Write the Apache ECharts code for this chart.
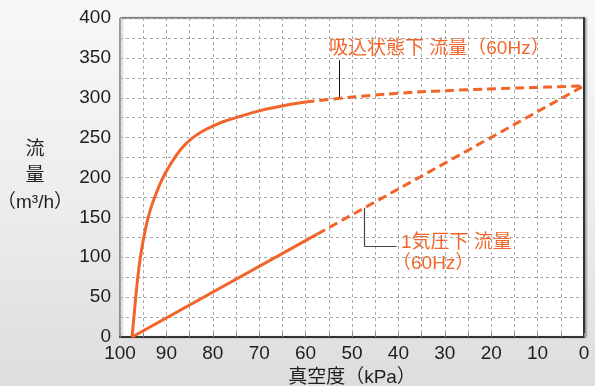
<!DOCTYPE html>
<html>
<head>
<meta charset="utf-8">
<script src="https://cdn.jsdelivr.net/npm/echarts@6/dist/echarts.min.js"></script>
<style>
  html, body { margin: 0; padding: 0; }
  body { width: 595px; height: 386px; background: linear-gradient(180deg, #f8f8f8 0%, #ececec 55%, #dddddd 100%); }
  #chart { width: 595px; height: 386px; }
</style>
</head>
<body>
<div id="chart"></div>
<script>
// Vacuum level (kPa) and flow rate (m³/h) under suction conditions, 60Hz
const suctionSolid = [
  [97.4, 0], [97.0, 25], [96.6, 50], [96.1, 78], [95.5, 104], [94.8, 127],
  [94.0, 148], [93.1, 166], [92.0, 183], [90.9, 198], [89.6, 212], [88.3, 224],
  [86.5, 238], [84.5, 249], [82.5, 257], [80.0, 264.5], [77.5, 270.5],
  [75.0, 275], [72.5, 279.5], [70.0, 283.5], [67.0, 287.5], [63.5, 291.5], [60.0, 294.8]
];
const suctionDashed = [
  [60.0, 294.8], [52.7, 299.3], [46.0, 302.8], [39.7, 305.8], [32.0, 308.3],
  [25.3, 310], [18.0, 311.5], [10.9, 312.8], [5.0, 313.9], [0, 315]
];
// Flow rate at 1 atm, 60Hz
const atmSolid = [[97.4, 0], [57.5, 129]];
const atmDashed = [[57.5, 129], [0, 315]];

// Leader lines for the two series labels (data coordinates)
const suctionLeader = [[52.7, 299.3], [52.7, 347]];
const atmLeader = [[47.3, 162], [47.3, 113.5], [40.4, 113.5]];

const xTicks = [0, 10, 20, 30, 40, 50, 60, 70, 80, 90, 100];
const yTicks = [0, 50, 100, 150, 200, 250, 300, 350, 400];

const ORANGE = '#f2652a';
const INK = '#1e1e1e';
const FONT = '"Liberation Sans", "Noto Sans CJK JP", sans-serif';
const FS = 19;

const chart = echarts.init(document.getElementById('chart'), null, { renderer: 'canvas' });

const gridDash = { color: '#a8a8a8', width: 1, type: [3, 3] };

function leaderSegments(pts) {
  const segs = [];
  for (let i = 0; i < pts.length - 1; i++) {
    segs.push([{ coord: pts[i] }, { coord: pts[i + 1] }]);
  }
  return segs;
}

function txt(text, x, y, fill, align) {
  return {
    type: 'text', x: x, y: y,
    style: { text: text, fill: fill, font: FS + 'px ' + FONT, textAlign: align, textVerticalAlign: 'middle' }
  };
}

chart.setOption({
  animation: false,
  backgroundColor: 'transparent',
  grid: {
    left: 120, right: 11, top: 18, bottom: 49,
    outerBoundsMode: 'none', containLabel: false,
    show: true, backgroundColor: '#ffffff', borderColor: '#3a3a3a', borderWidth: 1,
    shadowColor: 'rgba(0,0,0,0.35)', shadowBlur: 2, shadowOffsetX: 2, shadowOffsetY: 0
  },
  xAxis: {
    type: 'value', inverse: true,
    min: xTicks[0], max: xTicks[xTicks.length - 1], interval: 10,
    name: '真空度（kPa）', nameLocation: 'middle', nameGap: 31,
    nameTextStyle: { color: INK, fontSize: FS, fontFamily: FONT },
    axisLine: { show: true, lineStyle: { color: '#333', width: 2 } },
    axisTick: { show: true, inside: true, length: 4, lineStyle: { color: '#888' } },
    minorTick: { show: true, splitNumber: 2, length: 4, lineStyle: { color: '#888' } },
    axisLabel: { color: INK, fontSize: FS, fontFamily: FONT, margin: 7 },
    splitLine: { show: true, lineStyle: gridDash },
    minorSplitLine: { show: true, lineStyle: gridDash }
  },
  yAxis: {
    type: 'value',
    min: yTicks[0], max: yTicks[yTicks.length - 1], interval: 50,
    axisLine: { show: true, lineStyle: { color: '#333', width: 2 } },
    axisTick: { show: false },
    minorTick: { show: false, splitNumber: 2 },
    axisLabel: { color: INK, fontSize: FS, fontFamily: FONT, margin: 9 },
    splitLine: { show: true, lineStyle: gridDash },
    minorSplitLine: { show: true, lineStyle: gridDash }
  },
  series: [
    {
      name: 'suction-solid', type: 'line', data: suctionSolid, smooth: true,
      symbol: 'none', lineStyle: { color: ORANGE, width: 3 }, z: 5,
      markLine: {
        silent: true, symbol: 'none', label: { show: false },
        lineStyle: { color: '#111', width: 1, type: 'solid' },
        data: leaderSegments(suctionLeader)
      }
    },
    {
      name: 'suction-dashed', type: 'line', data: suctionDashed, smooth: true,
      symbol: 'none', lineStyle: { color: ORANGE, width: 3, type: [9, 5] }, z: 5
    },
    {
      name: 'atm-solid', type: 'line', data: atmSolid,
      symbol: 'none', lineStyle: { color: ORANGE, width: 3 }, z: 5,
      markLine: {
        silent: true, symbol: 'none', label: { show: false },
        lineStyle: { color: '#444', width: 1.2, type: 'solid' },
        data: leaderSegments(atmLeader)
      }
    },
    {
      name: 'atm-dashed', type: 'line', data: atmDashed,
      symbol: 'none', lineStyle: { color: ORANGE, width: 3, type: [9, 5] }, z: 5
    }
  ],
  graphic: [
    // y-axis title
    txt('流', 35, 150, INK, 'center'),
    txt('量', 35, 176, INK, 'center'),
    txt('（m³/h）', 35, 203, INK, 'center'),
    // series labels
    txt('吸込状態下 流量（60Hz）', 329, 49, ORANGE, 'left'),
    txt('1気圧下 流量', 401, 243, ORANGE, 'left'),
    txt('（60Hz）', 392, 264, ORANGE, 'left')
  ]
});
</script>
</body>
</html>
